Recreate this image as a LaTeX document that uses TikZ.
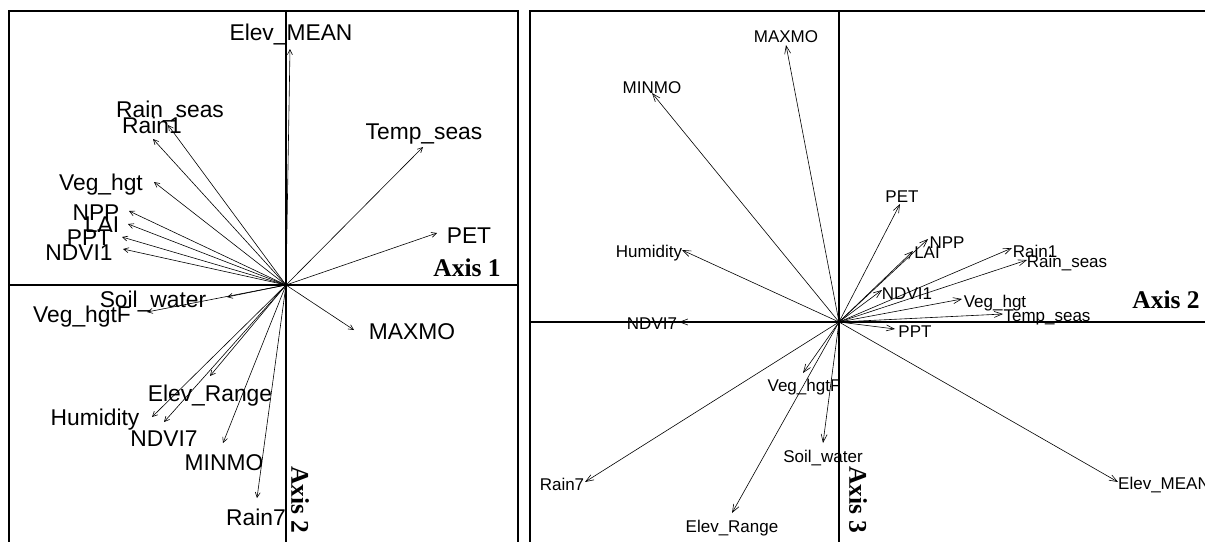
\documentclass[tikz,border=0pt]{standalone}
\usepackage{fontspec}
\setmainfont{Liberation Sans}
\newfontfamily\axisfont{Liberation Serif}
\usetikzlibrary{arrows.meta}
\tikzset{
  lblL/.style={font=\fontsize{22.8}{24}\selectfont, inner sep=0pt, anchor=base},
  lblR/.style={font=\fontsize{17}{18}\selectfont, inner sep=0pt, anchor=base},
  axlbl/.style={font=\axisfont\bfseries\fontsize{25.5}{27}\selectfont, inner sep=0pt},
  vecL/.style={line width=0.6pt, -{Straight Barb[length=5pt,width=5pt]}},
  vecR/.style={line width=0.6pt, -{Straight Barb[length=8pt,width=6pt]}},
  frame/.style={line width=1.2pt},
}
\begin{document}
\begin{tikzpicture}[x=1pt,y=-1pt]
\useasboundingbox (0,0) rectangle (1205,541);
\clip (0,0) rectangle (1205,541);
% ---------- left panel frame and axes
\draw[frame] (9,545) -- (9,11) -- (518,11) -- (518,545);
\draw[frame] (9,285) -- (518,285);
\draw[frame] (286,11) -- (286,545);
\coordinate (OL) at (286,285);
% tips
\coordinate (LelevM) at (290,49);
\coordinate (LrainS) at (168,125);
\coordinate (Lrain1) at (153,139);
\coordinate (LvegH) at (154,182);
\coordinate (Lnpp) at (129,211);
\coordinate (Llai) at (128,224);
\coordinate (Lppt) at (122,237);
\coordinate (Lndvi1) at (123,249);
\coordinate (Lsoil) at (227,297);
\coordinate (LvegF) at (147,312);
\coordinate (LelevR) at (210,376);
\coordinate (Lhum) at (152,417);
\coordinate (Lndvi7) at (164,422);
\coordinate (Lminmo) at (223,443);
\coordinate (Lrain7) at (257,498);
\coordinate (Ltemp) at (423,147);
\coordinate (Lpet) at (437,233);
\coordinate (Lmaxmo) at (354,330);
\foreach \t in {LelevM,LrainS,Lrain1,LvegH,Lnpp,Llai,Lppt,Lndvi1,Lsoil,LvegF,LelevR,Lhum,Lndvi7,Lminmo,Lrain7,Ltemp,Lpet,Lmaxmo}
  \draw[vecL] (OL) -- (\t);
% labels
\node[lblL] (tLelevM) at (291,40) {Elev\_MEAN};
\node[lblL] (tLrainS) at (170,117) {Rain\_seas};
\node[lblL] (tLrain1) at (152,133) {Rain1};
\node[lblL] (tLvegH) at (101,190) {Veg\_hgt};
\node[lblL] (tLnpp) at (96,220) {NPP};
\node[lblL] (tLlai) at (102,232) {LAI};
\node[lblL] (tLppt) at (89,245) {PPT};
\node[lblL] (tLndvi1) at (79,260) {NDVI1};
\node[lblL] (tLsoil) at (153,307) {Soil\_water};
\node[lblL] (tLvegF) at (82,322) {Veg\_hgtF};
\node[lblL] (tLelevR) at (210,401) {Elev\_Range};
\node[lblL] (tLhum) at (95,425) {Humidity};
\node[lblL] (tLndvi7) at (164,446) {NDVI7};
\node[lblL] (tLminmo) at (224,470) {MINMO};
\node[lblL] (tLrain7) at (256,525) {Rain7};
\node[lblL] (tLtemp) at (424,139) {Temp\_seas};
\node[lblL] (tLpet) at (469,243) {PET};
\node[lblL] (tLmaxmo) at (412,339) {MAXMO};
\node[axlbl, anchor=base] (axis1) at (467,276) {Axis 1};
\node[axlbl, rotate=-90] (axis2L) at (300,500) {Axis 2};
% ---------- right panel frame and axes
\draw[frame] (530,545) -- (530,11) -- (1210,11);
\draw[frame] (530,322) -- (1210,322);
\draw[frame] (839,11) -- (839,545);
\coordinate (OR) at (839,322);
\coordinate (Rmaxmo) at (786,45);
\coordinate (Rminmo) at (652,93);
\coordinate (Rhum) at (682,250);
\coordinate (Rndvi7) at (679,322);
\coordinate (Rpet) at (900,204);
\coordinate (Rnpp) at (928,239);
\coordinate (Rlai) at (913,251);
\coordinate (Rrain1) at (1012,248);
\coordinate (RrainS) at (1027,260);
\coordinate (Rndvi1) at (882,290);
\coordinate (RvegH) at (962,299);
\coordinate (Rtemp) at (1003,314);
\coordinate (Rppt) at (895,329);
\coordinate (RelevM) at (1118,482);
\coordinate (RvegF) at (803,373);
\coordinate (Rsoil) at (823,443);
\coordinate (Rrain7) at (585,482);
\coordinate (RelevR) at (732,513);
\foreach \t in {Rmaxmo,Rminmo,Rhum,Rndvi7,Rpet,Rnpp,Rlai,Rrain1,RrainS,Rndvi1,RvegH,Rtemp,Rppt,RelevM,RvegF,Rsoil,Rrain7,RelevR}
  \draw[vecR] (OR) -- (\t);
\node[lblR] (tRmaxmo) at (786,42) {MAXMO};
\node[lblR] (tRminmo) at (652,93) {MINMO};
\node[lblR] (tRhum) at (649,257) {Humidity};
\node[lblR] (tRndvi7) at (652,329) {NDVI7};
\node[lblR] (tRpet) at (902,202) {PET};
\node[lblR] (tRnpp) at (947,248) {NPP};
\node[lblR] (tRlai) at (927,258) {LAI};
\node[lblR] (tRrain1) at (1035,257) {Rain1};
\node[lblR] (tRrainS) at (1067,267) {Rain\_seas};
\node[lblR] (tRndvi1) at (907,299) {NDVI1};
\node[lblR] (tRvegH) at (995,307) {Veg\_hgt};
\node[lblR] (tRtemp) at (1047,321) {Temp\_seas};
\node[lblR] (tRppt) at (915,337) {PPT};
\node[lblR, anchor=base west] (tRelevM) at (1118,489) {Elev\_MEAN};
\node[lblR] (tRvegF) at (804,391) {Veg\_hgtF};
\node[lblR] (tRsoil) at (823,462) {Soil\_water};
\node[lblR] (tRrain7) at (562,490) {Rain7};
\node[lblR] (tRelevR) at (732,532) {Elev\_Range};
\node[axlbl, anchor=base] (axis2R) at (1166,308) {Axis 2};
\node[axlbl, rotate=-90] (axis3) at (858,500) {Axis 3};
\end{tikzpicture}
\end{document}
